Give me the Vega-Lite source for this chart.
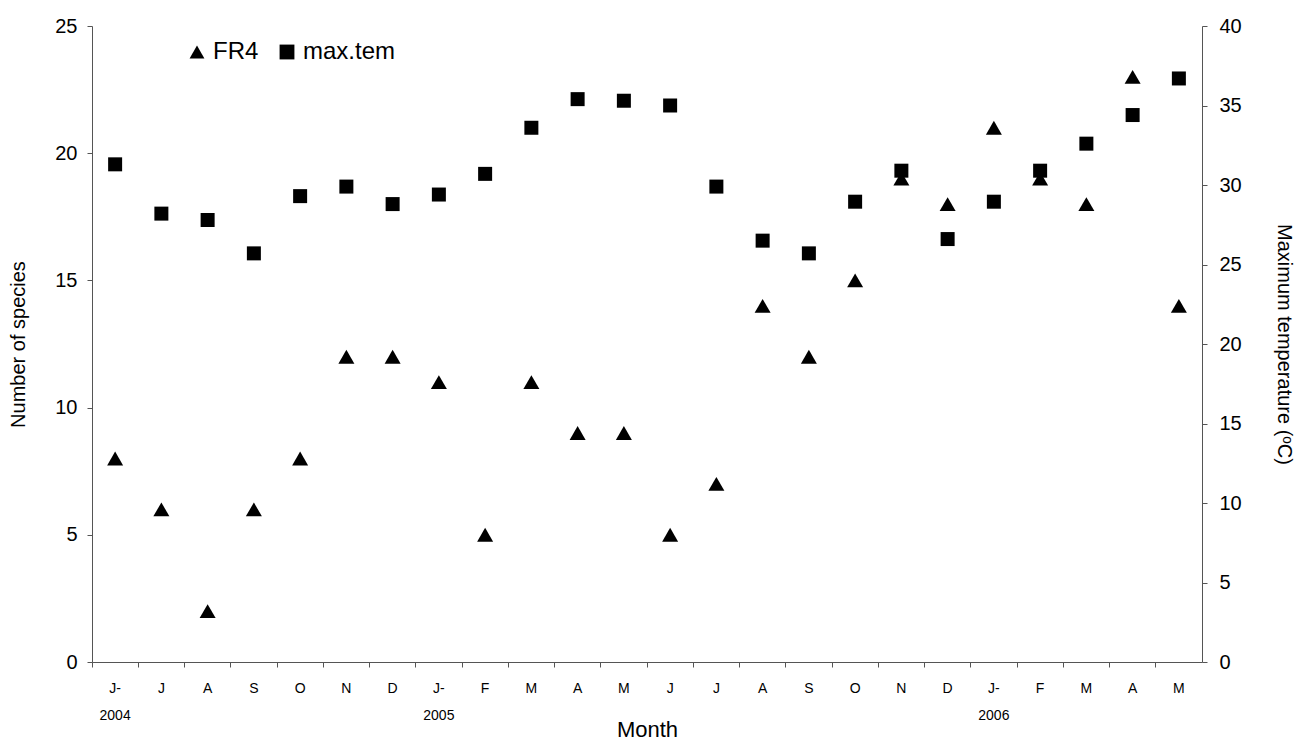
{
  "$schema": "https://vega.github.io/schema/vega-lite/v6.json",
  "width": 1110,
  "height": 636,
  "autosize": {"type": "none"},
  "padding": {"left": 92, "top": 26, "right": 94, "bottom": 80},
  "background": "white",
  "config": {
    "font": "Liberation Sans",
    "view": {"stroke": null},
    "axis": {"grid": false, "domainColor": "#555555", "tickColor": "#555555", "labelColor": "black", "titleColor": "black", "titleFontWeight": "normal", "labelFont": "Liberation Sans", "titleFont": "Liberation Sans"}
  },
  "data": {
    "values": [
      {"month": "2004-06", "series": "FR4", "value": 8}, {"month": "2004-06", "series": "max.tem", "value": 31.3},
      {"month": "2004-07", "series": "FR4", "value": 6}, {"month": "2004-07", "series": "max.tem", "value": 28.2},
      {"month": "2004-08", "series": "FR4", "value": 2}, {"month": "2004-08", "series": "max.tem", "value": 27.8},
      {"month": "2004-09", "series": "FR4", "value": 6}, {"month": "2004-09", "series": "max.tem", "value": 25.7},
      {"month": "2004-10", "series": "FR4", "value": 8}, {"month": "2004-10", "series": "max.tem", "value": 29.3},
      {"month": "2004-11", "series": "FR4", "value": 12}, {"month": "2004-11", "series": "max.tem", "value": 29.9},
      {"month": "2004-12", "series": "FR4", "value": 12}, {"month": "2004-12", "series": "max.tem", "value": 28.8},
      {"month": "2005-01", "series": "FR4", "value": 11}, {"month": "2005-01", "series": "max.tem", "value": 29.4},
      {"month": "2005-02", "series": "FR4", "value": 5}, {"month": "2005-02", "series": "max.tem", "value": 30.7},
      {"month": "2005-03", "series": "FR4", "value": 11}, {"month": "2005-03", "series": "max.tem", "value": 33.6},
      {"month": "2005-04", "series": "FR4", "value": 9}, {"month": "2005-04", "series": "max.tem", "value": 35.4},
      {"month": "2005-05", "series": "FR4", "value": 9}, {"month": "2005-05", "series": "max.tem", "value": 35.3},
      {"month": "2005-06", "series": "FR4", "value": 5}, {"month": "2005-06", "series": "max.tem", "value": 35.0},
      {"month": "2005-07", "series": "FR4", "value": 7}, {"month": "2005-07", "series": "max.tem", "value": 29.9},
      {"month": "2005-08", "series": "FR4", "value": 14}, {"month": "2005-08", "series": "max.tem", "value": 26.5},
      {"month": "2005-09", "series": "FR4", "value": 12}, {"month": "2005-09", "series": "max.tem", "value": 25.7},
      {"month": "2005-10", "series": "FR4", "value": 15}, {"month": "2005-10", "series": "max.tem", "value": 28.95},
      {"month": "2005-11", "series": "FR4", "value": 19}, {"month": "2005-11", "series": "max.tem", "value": 30.9},
      {"month": "2005-12", "series": "FR4", "value": 18}, {"month": "2005-12", "series": "max.tem", "value": 26.6},
      {"month": "2006-01", "series": "FR4", "value": 21}, {"month": "2006-01", "series": "max.tem", "value": 28.95},
      {"month": "2006-02", "series": "FR4", "value": 19}, {"month": "2006-02", "series": "max.tem", "value": 30.9},
      {"month": "2006-03", "series": "FR4", "value": 18}, {"month": "2006-03", "series": "max.tem", "value": 32.6},
      {"month": "2006-04", "series": "FR4", "value": 23}, {"month": "2006-04", "series": "max.tem", "value": 34.4},
      {"month": "2006-05", "series": "FR4", "value": 14}, {"month": "2006-05", "series": "max.tem", "value": 36.7}
    ]
  },
  "encoding": {
    "x": {
      "field": "month",
      "type": "ordinal",
      "scale": {"type": "band", "paddingInner": 0, "paddingOuter": 0},
      "axis": {
        "title": "Month",
        "titleFontSize": 22,
        "titlePadding": -3,
        "labelAngle": 0,
        "labelFontSize": 14,
        "labelPadding": 14,
        "labelLineHeight": 27,
        "tickSize": 5,
        "bandPosition": 0,
        "labelExpr": "datum.value == '2004-06' ? ['J-', '2004'] : datum.value == '2005-01' ? ['J-', '2005'] : datum.value == '2006-01' ? ['J-', '2006'] : substring('JFMAMJJASOND', toNumber(slice(datum.value, 5)) - 1, toNumber(slice(datum.value, 5)))"
      }
    },
    "shape": {
      "field": "series",
      "type": "nominal",
      "scale": {"domain": ["FR4", "max.tem"], "range": ["triangle-up", "square"]},
      "legend": {
        "title": null,
        "orient": "none",
        "direction": "horizontal",
        "legendX": 93,
        "legendY": 14,
        "labelFontSize": 24,
        "labelFont": "Liberation Sans",
        "labelColor": "black",
        "symbolSize": 220,
        "symbolFillColor": "black",
        "symbolStrokeColor": "black",
        "labelOffset": 4,
        "columnPadding": 16
      }
    }
  },
  "layer": [
    {
      "transform": [{"filter": "datum.series == 'FR4'"}],
      "mark": {"type": "point", "filled": true, "color": "black", "opacity": 1, "size": 256},
      "encoding": {
        "y": {
          "field": "value",
          "type": "quantitative",
          "scale": {"domain": [0, 25], "nice": false},
          "axis": {"title": "Number of species", "titleFontSize": 20, "titlePadding": 26, "labelFontSize": 20, "labelPadding": 10, "tickSize": 5, "values": [0, 5, 10, 15, 20, 25]}
        }
      }
    },
    {
      "transform": [{"filter": "datum.series == 'max.tem'"}],
      "mark": {"type": "point", "filled": true, "color": "black", "opacity": 1, "size": 196},
      "encoding": {
        "y": {
          "field": "value",
          "type": "quantitative",
          "scale": {"domain": [0, 40], "nice": false},
          "axis": {"orient": "right", "title": "Maximum temperature (ᵒC)", "titleFontSize": 20, "titlePadding": 32, "labelFontSize": 20, "labelPadding": 12, "tickSize": 5, "values": [0, 5, 10, 15, 20, 25, 30, 35, 40]}
        }
      }
    }
  ],
  "resolve": {"scale": {"y": "independent"}, "axis": {"y": "independent"}}
}
